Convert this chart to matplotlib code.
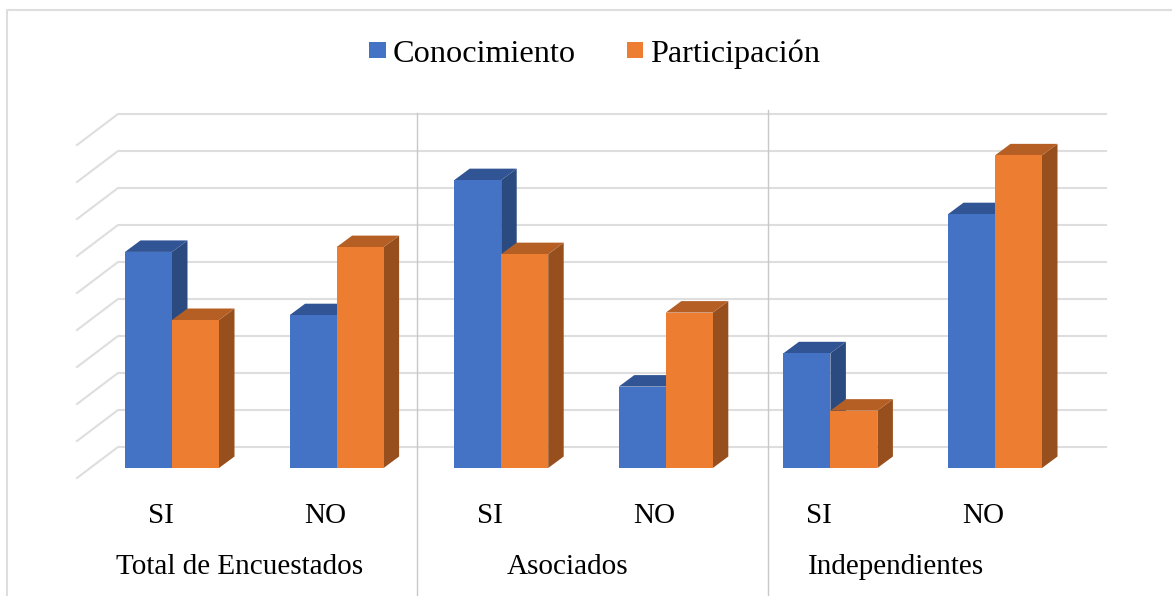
import matplotlib
matplotlib.use("Agg")
import matplotlib.pyplot as plt
from matplotlib.patches import Polygon, Patch

plt.rcParams['font.family'] = ['Liberation Serif', 'DejaVu Serif']

# values (percent)
respuestas = ["SI", "NO", "SI", "NO", "SI", "NO"]
grupos = ["Total de Encuestados", "Asociados", "Independientes"]
conocimiento = [58.4, 41.3, 77.8, 22, 31, 68.6]
participacion = [40, 59.7, 57.8, 42, 15.5, 84.5]
niveles = [0, 10, 20, 30, 40, 50, 60, 70, 80, 90]

azul = ("#4472C4", "#315494", "#2A4A80")
naranja = ("#ED7D31", "#B55F24", "#97501D")
gris = "#DEDEDE"

# layout: 1 category = 164.6 px, 10 percent = 37 px
PX_X = 164.6
PX_Y = 3.7
X0 = 172
Y0 = 468
W = 47 / PX_X
DX = 15.5 / PX_X
DY = 11.5 / PX_Y
WALL_DX = 41 / PX_X
BACK = 21 / PX_Y    # back wall baseline above the front baseline
FRONT = -10 / PX_Y  # front end of the floor lines

fig = plt.figure(figsize=(11.72, 5.96), dpi=100)
ax = fig.add_axes([0, 0, 1, 1])
ax.set_xlim(-X0 / PX_X, (1172 - X0) / PX_X)
ax.set_ylim(-(596 - Y0) / PX_Y, Y0 / PX_Y)
ax.axis("off")


def px(x):
    return (x - X0) / PX_X


def py(y):
    return (Y0 - y) / PX_Y


# frame of the chart
ax.plot([px(7), px(7), px(1172)], [py(596), py(10), py(10)], color=gris, lw=1.5, zorder=1)

# walls
for n in niveles:
    ax.plot([px(77), px(77) + WALL_DX, px(1106)],
            [n + FRONT, n + BACK, n + BACK], color=gris, lw=1.5, zorder=1)

# group separators
for xs, ytop in [(417.5, 113), (768, 110)]:
    ax.plot([px(xs), px(xs)], [py(ytop), py(596)], color="#C8C8C8", lw=1, zorder=1)


def barra(x, v, colores, z):
    frente, arriba, lado = colores
    ax.add_patch(Polygon([(x + W, 0), (x + W + DX, DY), (x + W + DX, v + DY), (x + W, v)],
                         closed=True, fc=lado, ec="none", zorder=z))
    ax.add_patch(Polygon([(x, v), (x + W, v), (x + W + DX, v + DY), (x + DX, v + DY)],
                         closed=True, fc=arriba, ec="none", zorder=z))
    ax.bar(x, v, width=W, align="edge", color=frente, zorder=z + 0.1)


for i in range(len(respuestas)):
    barra(i - W, conocimiento[i], azul, 2 + i)
    barra(i, participacion[i], naranja, 2.5 + i)
    ax.text(px(161 + 164.4 * i), py(516), respuestas[i], ha="center", va="center",
            fontsize=21, color="black")

for xc, g in zip([240, 568, 896], grupos):
    ax.text(px(xc), py(567), g, ha="center", va="center", fontsize=21, color="black")

ax.legend(handles=[Patch(facecolor=azul[0], lw=0, label="Conocimiento"),
                   Patch(facecolor=naranja[0], lw=0, label="Participación")],
          ncol=2, loc="center", bbox_to_anchor=(595 / 1172, 1 - 54 / 596), frameon=False,
          fontsize=23.2, handlelength=0.5, handleheight=0.39, handletextpad=0.22,
          columnspacing=1.6, labelcolor="black")

fig.savefig("out.png", dpi=100)
